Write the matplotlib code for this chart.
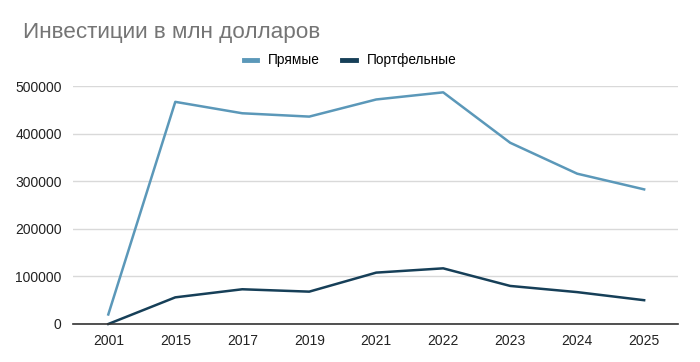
import matplotlib.pyplot as plt
import numpy as np

plt.rcParams['font.family'] = ['Liberation Sans', 'DejaVu Sans']

# data
years = ["2001", "2015", "2017", "2019", "2021", "2022", "2023", "2024", "2025"]
direct = [20000, 467000, 443000, 436000, 472000, 487000, 381000, 316000, 283000]
portfolio = [0, 56000, 73000, 68000, 108000, 117000, 80000, 67000, 50000]

C_DIRECT = "#5b98b9"
C_PORT = "#163f58"

fig = plt.figure(figsize=(7, 3.62), dpi=100)
ax = fig.add_axes([0.104, 0.105, 0.865, 0.657])

x = np.arange(len(years))
ax.plot(x, direct, color=C_DIRECT, lw=1.8, label="Прямые", clip_on=False)
ax.plot(x, portfolio, color=C_PORT, lw=1.8, label="Портфельные", clip_on=False)

ax.set_xlim(-0.53, 8.51)
ax.set_ylim(0, 500000)
ax.set_xticks(x)
ax.set_xticklabels(years)
ax.set_yticks([0, 100000, 200000, 300000, 400000, 500000])
ax.set_yticklabels(["0", "100000", "200000", "300000", "400000", "500000"])
ax.tick_params(axis='both', length=0, labelsize=10, colors="#222222")
ax.tick_params(axis='x', pad=7)
ax.tick_params(axis='y', pad=8)

ax.grid(axis='y', color="#d9d9d9", lw=1)
ax.set_axisbelow(True)
for s in ["top", "right", "left"]:
    ax.spines[s].set_visible(False)
ax.spines["bottom"].set_color("#333333")
ax.spines["bottom"].set_linewidth(1.2)
ax.spines["bottom"].set_zorder(3)

fig.text(0.033, 0.91, "Инвестиции в млн долларов", fontsize=16.2, color="#757575", va="center")
fig.legend(loc="center", bbox_to_anchor=(0.5, 0.833), ncol=2, frameon=False,
           fontsize=9.8, handlelength=1.0, handletextpad=0.8, columnspacing=1.6)
leg = fig.legends[0]
for h in leg.legend_handles:
    h.set_linewidth(3.5)

fig.savefig("out.png", dpi=100)
